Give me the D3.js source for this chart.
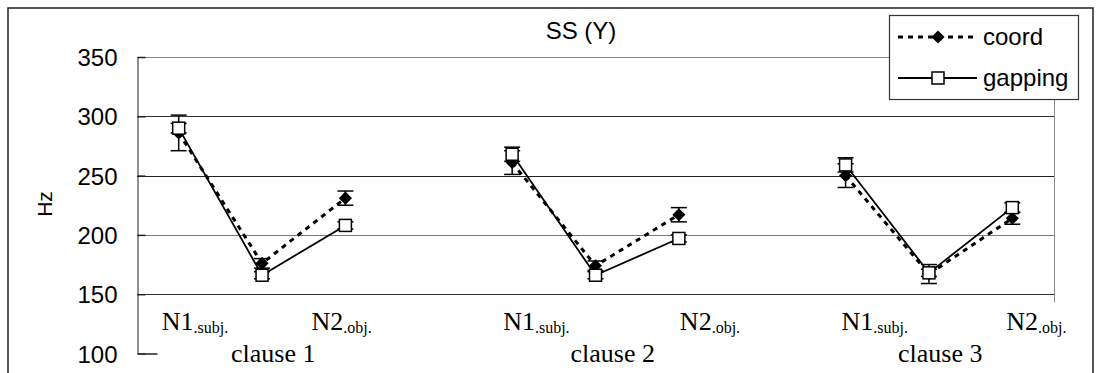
<!DOCTYPE html>
<html>
<head>
  <meta charset="utf-8">
  <title>SS (Y)</title>
  <script src="https://d3js.org/d3.v7.min.js"></script>
  <style>
    body {
      margin: 0;
      background-color: #ffffff;
    }
    .sans { font-family: "Liberation Sans", Arial, sans-serif; fill: #000; }
    .serif { font-family: "Liberation Serif", "Times New Roman", serif; fill: #000; }
  </style>
</head>
<body>
  <div id="chart"></div>

  <script>
    // 11 slots: three clauses of N1 / verb / N2, with an empty slot between clauses
    const categories = ['c1-N1', 'c1-V', 'c1-N2', 'gap1', 'c2-N1', 'c2-V', 'c2-N2', 'gap2', 'c3-N1', 'c3-V', 'c3-N2'];
    const coord      = [286, 176, 231, null, 261, 174, 217, null, 250, 167, 214];
    const coordErr   = [15, 4, 6, null, 10, 4, 6, null, 10, 8, 5];
    const gapping    = [290, 166, 208, null, 268, 166, 197, null, 259, 168, 223];
    const gappingErr = [4, 3, 3, null, 6, 3, 3, null, 6, 3, 4];

    const yTicks = [100, 150, 200, 250, 300, 350];
    const nounLabels = [
      { cat: 'c1-N1', main: 'N1', sub: '.subj.' },
      { cat: 'c1-N2', main: 'N2', sub: '.obj.' },
      { cat: 'c2-N1', main: 'N1', sub: '.subj.' },
      { cat: 'c2-N2', main: 'N2', sub: '.obj.' },
      { cat: 'c3-N1', main: 'N1', sub: '.subj.' },
      { cat: 'c3-N2', main: 'N2', sub: '.obj.' }
    ];
    const clauseLabels = [
      { cat: 'c1-V', text: 'clause 1' },
      { cat: 'c2-V', text: 'clause 2' },
      { cat: 'c3-V', text: 'clause 3' }
    ];
    const title = 'SS (Y)';
    const yTitle = 'Hz';

    const width = 1101, height = 373;
    const plot = { left: 137, right: 1054, top: 57, bottom: 353.5 };

    const svg = d3.select('#chart').append('svg')
      .attr('width', width)
      .attr('height', height);

    // outer chart frame (bottom edge falls outside the picture)
    svg.append('path')
      .attr('d', `M8,${height + 5} L8,8 L1093,8 L1093,${height + 5}`)
      .attr('fill', 'none')
      .attr('stroke', '#222')
      .attr('stroke-width', 1.5);

    const x = d3.scalePoint()
      .domain(categories)
      .range([plot.left, plot.right])
      .padding(0.5);

    const y = d3.scaleLinear()
      .domain([100, 350])
      .range([plot.bottom, plot.top]);

    // gridlines
    const gridColor = { 350: '#8a8a8a', 300: '#333', 250: '#222', 200: '#7a7a7a', 150: '#333' };
    svg.append('g')
      .selectAll('line')
      .data(yTicks.filter(d => d > 100))
      .enter()
      .append('line')
      .attr('x1', plot.left)
      .attr('x2', plot.right)
      .attr('y1', d => Math.round(y(d)) + 0.5)
      .attr('y2', d => Math.round(y(d)) + 0.5)
      .attr('stroke', d => gridColor[d])
      .attr('stroke-width', 1);

    // right border of the plot area
    svg.append('line')
      .attr('x1', plot.right + 0.5).attr('x2', plot.right + 0.5)
      .attr('y1', plot.top).attr('y2', y(143))
      .attr('stroke', '#8a8a8a');

    // y axis: left line, inner ticks, labels
    const yAxis = d3.axisLeft(y)
      .tickValues(yTicks)
      .tickSize(-8)
      .tickPadding(20);
    const yAxisG = svg.append('g')
      .attr('transform', `translate(${plot.left + 0.5},0)`)
      .call(yAxis);
    yAxisG.select('.domain').attr('stroke', '#222');
    yAxisG.selectAll('.tick line').attr('stroke', '#222').attr('stroke-width', 1.5);
    yAxisG.selectAll('.tick text')
      .attr('class', 'sans')
      .attr('font-size', 24)
      .attr('dy', '0.36em')
      .attr('x', -20);
    yAxisG.selectAll('.tick').filter(d => d === 100).select('line').attr('x2', 20);

    // y title
    svg.append('text')
      .attr('class', 'sans')
      .attr('transform', 'translate(52,204) rotate(-90)')
      .attr('text-anchor', 'middle')
      .attr('font-size', 21)
      .text(yTitle);

    // chart title
    svg.append('text')
      .attr('class', 'sans')
      .attr('x', 581)
      .attr('y', 39)
      .attr('text-anchor', 'middle')
      .attr('font-size', 24)
      .text(title);

    // category labels (hand placed text boxes in the original, hence the nudges)
    const nounNudge = [-17, -34, -9, 1, -4, -6];
    nounLabels.forEach((d, i) => {
      const t = svg.append('text')
        .attr('class', 'serif')
        .attr('x', x(d.cat) + nounNudge[i])
        .attr('y', 330)
        .attr('font-size', 26);
      t.append('tspan').text(d.main);
      t.append('tspan').attr('font-size', 16).attr('dy', 3).text(d.sub);
    });
    const clauseNudge = [-31, -25, -31];
    clauseLabels.forEach((d, i) => {
      svg.append('text')
        .attr('class', 'serif')
        .attr('x', x(d.cat) + clauseNudge[i])
        .attr('y', 362)
        .attr('font-size', 26)
        .text(d.text);
    });

    const rows = categories.map((c, i) => ({
      cat: c, coord: coord[i], coordErr: coordErr[i], gapping: gapping[i], gappingErr: gappingErr[i]
    }));

    function drawErrorBars(key, errKey) {
      const g = svg.append('g').attr('stroke', '#000').attr('stroke-width', 1.5);
      rows.filter(d => d[key] != null).forEach(d => {
        const cx = x(d.cat);
        const y0 = y(d[key] - d[errKey]), y1 = y(d[key] + d[errKey]);
        g.append('line').attr('x1', cx).attr('x2', cx).attr('y1', y0).attr('y2', y1);
        g.append('line').attr('x1', cx - 8).attr('x2', cx + 8).attr('y1', y0).attr('y2', y0);
        g.append('line').attr('x1', cx - 8).attr('x2', cx + 8).attr('y1', y1).attr('y2', y1);
      });
    }

    // coord series: dotted line, black diamonds
    drawErrorBars('coord', 'coordErr');
    const coordLine = d3.line()
      .defined(d => d.coord != null)
      .x(d => x(d.cat))
      .y(d => y(d.coord));
    svg.append('path')
      .datum(rows)
      .attr('d', coordLine)
      .attr('fill', 'none')
      .attr('stroke', '#000')
      .attr('stroke-width', 3)
      .attr('stroke-dasharray', '5,5');
    const diamond = d3.symbol().type(d3.symbolDiamond2).size(110);
    svg.append('g')
      .selectAll('path')
      .data(rows.filter(d => d.coord != null))
      .enter()
      .append('path')
      .attr('d', diamond)
      .attr('transform', d => `translate(${x(d.cat)},${y(d.coord)})`)
      .attr('fill', '#000');

    // gapping series: solid line, open squares
    drawErrorBars('gapping', 'gappingErr');
    const gappingLine = d3.line()
      .defined(d => d.gapping != null)
      .x(d => x(d.cat))
      .y(d => y(d.gapping));
    svg.append('path')
      .datum(rows)
      .attr('d', gappingLine)
      .attr('fill', 'none')
      .attr('stroke', '#000')
      .attr('stroke-width', 1.8);
    svg.append('g')
      .selectAll('rect')
      .data(rows.filter(d => d.gapping != null))
      .enter()
      .append('rect')
      .attr('x', d => x(d.cat) - 6)
      .attr('y', d => y(d.gapping) - 6)
      .attr('width', 12)
      .attr('height', 12)
      .attr('fill', '#fff')
      .attr('stroke', '#000')
      .attr('stroke-width', 1.5);

    // legend
    const legend = svg.append('g');
    legend.append('rect')
      .attr('x', 889.5).attr('y', 15.5)
      .attr('width', 189).attr('height', 84)
      .attr('fill', '#fff')
      .attr('stroke', '#333')
      .attr('stroke-width', 1.2);
    const legendItems = [
      { name: 'coord', dash: '5,5', width: 3, marker: 'diamond' },
      { name: 'gapping', dash: null, width: 1.8, marker: 'square' }
    ];
    legendItems.forEach((d, i) => {
      const ly = 37 + i * 41;
      legend.append('line')
        .attr('x1', 898).attr('x2', 977)
        .attr('y1', ly).attr('y2', ly)
        .attr('stroke', '#000')
        .attr('stroke-width', d.width)
        .attr('stroke-dasharray', d.dash);
      if (d.marker === 'diamond') {
        legend.append('path')
          .attr('d', diamond)
          .attr('transform', `translate(938,${ly})`)
          .attr('fill', '#000');
      } else {
        legend.append('rect')
          .attr('x', 932).attr('y', ly - 6)
          .attr('width', 12).attr('height', 12)
          .attr('fill', '#fff')
          .attr('stroke', '#000')
          .attr('stroke-width', 1.5);
      }
      legend.append('text')
        .attr('class', 'sans')
        .attr('x', 983)
        .attr('y', ly + 8)
        .attr('font-size', 24)
        .text(d.name);
    });
  </script>
</body>
</html>
